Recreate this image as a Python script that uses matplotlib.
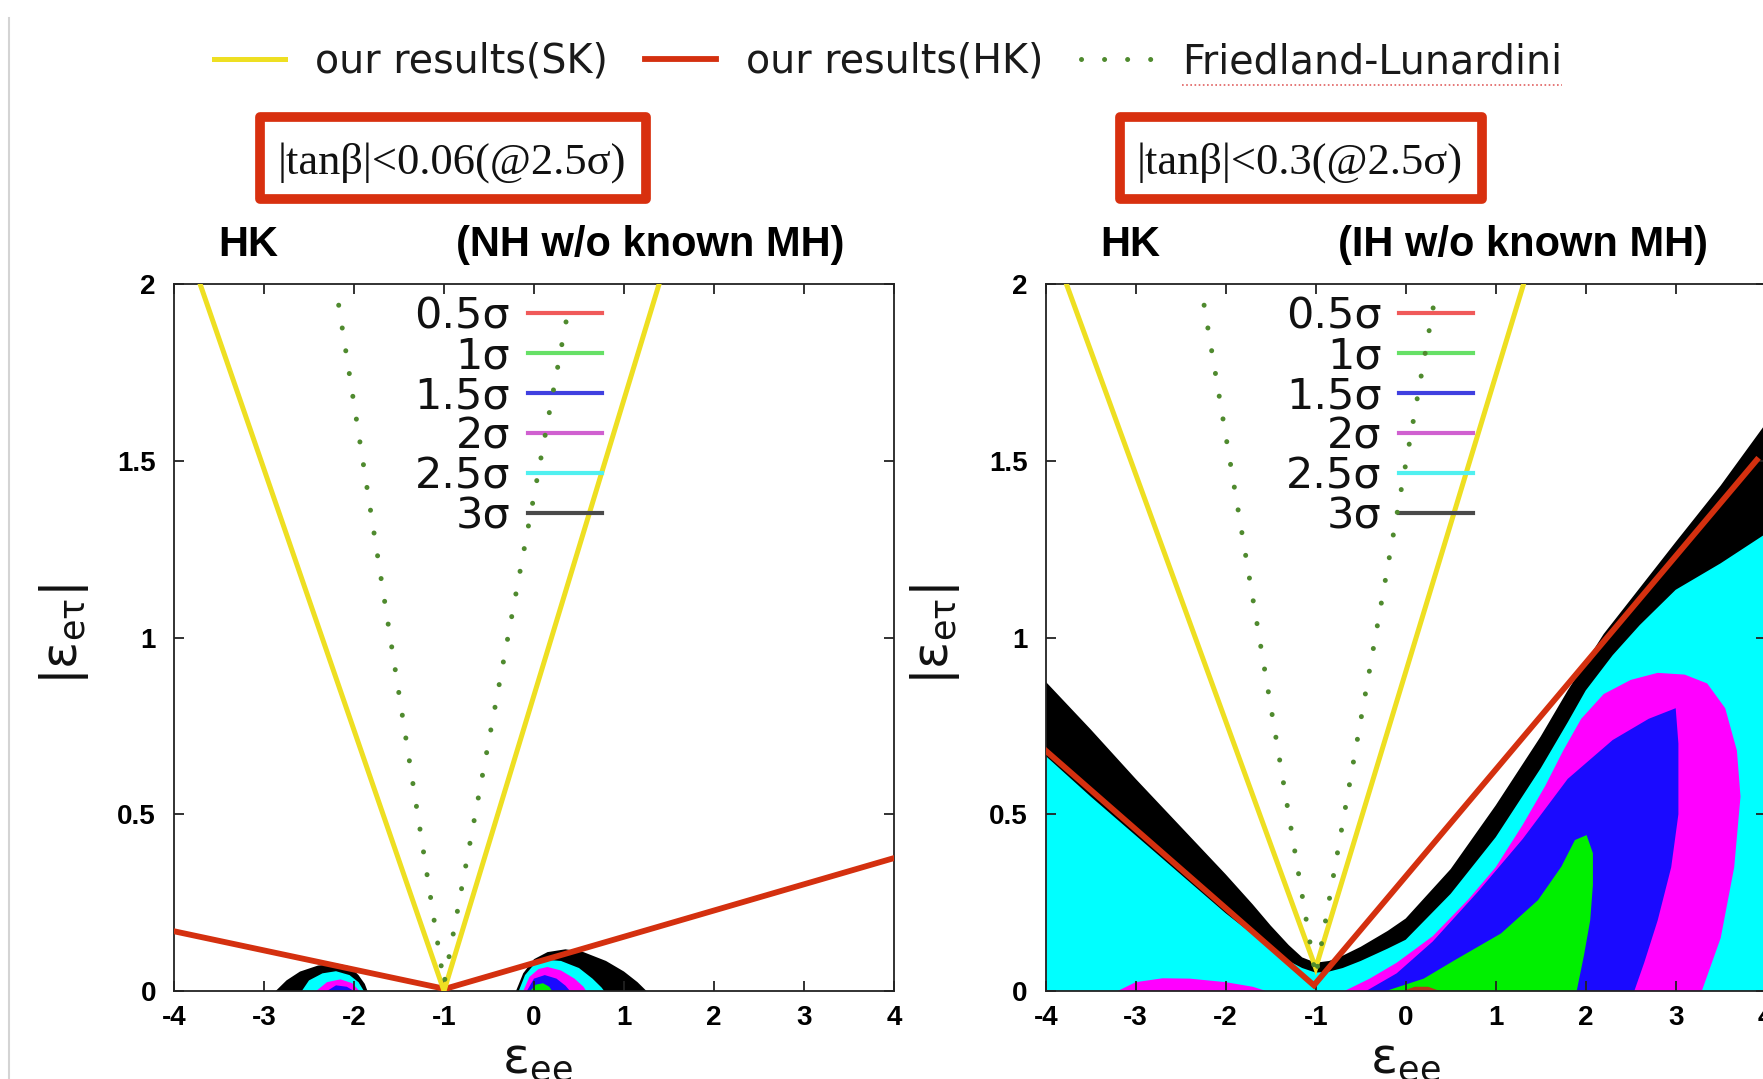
import matplotlib
matplotlib.use("Agg")
import matplotlib.pyplot as plt
from matplotlib.lines import Line2D
from matplotlib.patches import Rectangle

plt.rcParams['mathtext.fontset'] = 'dejavusans'
plt.rcParams['font.family'] = ['DejaVu Sans']

# ------------------------------------------------------------------ data
x_ticks = [-4, -3, -2, -1, 0, 1, 2, 3, 4]
x_tick_labels = ['-4', '-3', '-2', '-1', '0', '1', '2', '3', '4']
y_ticks = [0, 0.5, 1, 1.5, 2]
y_tick_labels = ['0', '0.5', '1', '1.5', '2']

sigma_labels = ['0.5σ', '1σ', '1.5σ', '2σ', '2.5σ', '3σ']
sigma_line_colors = ['#f05a5a', '#66e066', '#4040e0', '#d060d0', '#50f0f0', '#4a4a4a']

top_legend_labels = ['our results(SK)', 'our results(HK)', 'Friedland-Lunardini']
box_texts = ['|tanβ|<0.06(@2.5σ)', '|tanβ|<0.3(@2.5σ)']
panel_tags = ['HK', 'HK']
panel_titles = ['(NH w/o known MH)', '(IH w/o known MH)']
x_label = r'$\mathregular{ε_{ee}}$'
y_label = r'$\mathregular{|ε_{eτ}|}$'

# ---- left panel (NH): bound lines
nh_sk_x = [-3.71, -1.0, 1.39]
nh_sk_y = [2.0, 0.0, 2.0]
nh_hk_x = [-4.0, -0.99, 4.0]
nh_hk_y = [0.169, 0.006, 0.376]
nh_fl_x = [-2.17, -1.0, 0.39]
nh_fl_y = [1.94, 0.02, 1.94]

# ---- left panel (NH): allowed islands (3σ, 2.5σ, 2σ, 1.5σ, 1σ)
nh_a3_x = [-2.87, -2.75, -2.6, -2.4, -2.2, -2.05, -1.95, -1.88, -1.85]
nh_a3_y = [0.0, 0.03, 0.055, 0.072, 0.078, 0.07, 0.045, 0.02, 0.0]
nh_a25_x = [-2.58, -2.5, -2.35, -2.2, -2.05, -1.95, -1.89]
nh_a25_y = [0.0, 0.03, 0.05, 0.056, 0.045, 0.025, 0.0]
nh_a2_x = [-2.42, -2.3, -2.15, -2.02, -1.94]
nh_a2_y = [0.0, 0.025, 0.033, 0.022, 0.0]
nh_a15_x = [-2.3, -2.2, -2.08, -2.0]
nh_a15_y = [0.0, 0.016, 0.012, 0.0]

nh_b3_x = [-0.2, -0.12, 0.0, 0.15, 0.35, 0.55, 0.8, 1.0, 1.15, 1.25]
nh_b3_y = [0.0, 0.05, 0.09, 0.11, 0.118, 0.11, 0.085, 0.055, 0.025, 0.0]
nh_b25_x = [-0.17, -0.1, 0.0, 0.15, 0.3, 0.5, 0.65, 0.75, 0.78]
nh_b25_y = [0.0, 0.045, 0.075, 0.088, 0.085, 0.065, 0.035, 0.01, 0.0]
nh_b2_x = [-0.12, -0.05, 0.05, 0.15, 0.3, 0.45, 0.55, 0.58]
nh_b2_y = [0.0, 0.04, 0.062, 0.068, 0.058, 0.035, 0.012, 0.0]
nh_b15_x = [-0.08, 0.0, 0.12, 0.25, 0.35, 0.4]
nh_b15_y = [0.0, 0.035, 0.045, 0.035, 0.015, 0.0]
nh_b1_x = [-0.04, 0.02, 0.1, 0.17, 0.2]
nh_b1_y = [0.0, 0.018, 0.022, 0.012, 0.0]

# ---- right panel (IH): bound lines
ih_sk_x = [-3.77, -1.0, 1.31]
ih_sk_y = [2.0, 0.065, 2.0]
ih_hk_x = [-4.0, -1.02, 3.9]
ih_hk_y = [0.68, 0.016, 1.502]
ih_fl_x = [-2.24, -1.0, 0.31]
ih_fl_y = [1.94, 0.04, 1.94]

# ---- right panel (IH): allowed regions
ih_3s_x = [-4.0, -3.5, -3.0, -2.5, -2.0, -1.7, -1.5, -1.3, -1.15, -1.0, -0.85, -0.7,
           -0.5, -0.2, 0.0, 0.5, 1.0, 1.5, 1.8, 2.2, 2.6, 3.0, 3.5, 4.1]
ih_3s_y = [0.875, 0.74, 0.60, 0.465, 0.33, 0.245, 0.185, 0.13, 0.095, 0.08, 0.085, 0.1,
           0.125, 0.17, 0.205, 0.345, 0.525, 0.72, 0.85, 1.01, 1.14, 1.27, 1.43, 1.64]
ih_25s_x = [-4.0, -3.5, -3.0, -2.5, -2.0, -1.7, -1.5, -1.3, -1.15, -1.0, -0.85, -0.7,
            -0.5, -0.2, 0.0, 0.5, 1.0, 1.5, 1.8, 2.0, 2.3, 2.6, 3.0, 3.5, 4.1]
ih_25s_y = [0.665, 0.55, 0.44, 0.33, 0.22, 0.16, 0.12, 0.085, 0.065, 0.052, 0.055, 0.065,
            0.085, 0.12, 0.145, 0.275, 0.435, 0.63, 0.76, 0.85, 0.95, 1.035, 1.135, 1.21, 1.31]
ih_2s_a_x = [-3.2, -3.0, -2.7, -2.4, -2.0, -1.7, -1.55]
ih_2s_a_y = [0.0, 0.025, 0.036, 0.035, 0.025, 0.012, 0.0]
ih_2s_b_x = [-0.68, -0.4, -0.1, 0.3, 0.7, 1.0, 1.3, 1.55, 1.75, 1.95, 2.2, 2.5, 2.8, 3.1,
             3.35, 3.55, 3.68, 3.72, 3.65, 3.5, 3.29]
ih_2s_b_y = [0.0, 0.035, 0.08, 0.155, 0.26, 0.35, 0.47, 0.58, 0.68, 0.77, 0.84, 0.88, 0.9,
             0.895, 0.87, 0.8, 0.68, 0.55, 0.35, 0.15, 0.0]
ih_15s_x = [-0.44, -0.1, 0.3, 0.8, 1.3, 1.8, 2.3, 2.7, 3.0, 3.03, 3.03, 2.95, 2.8, 2.65, 2.54]
ih_15s_y = [0.0, 0.05, 0.14, 0.28, 0.43, 0.6, 0.71, 0.77, 0.8, 0.7, 0.5, 0.35, 0.2, 0.08, 0.0]
ih_1s_x = [-0.22, 0.2, 0.55, 1.06, 1.47, 1.73, 1.88, 2.01, 2.08, 2.08, 2.05, 1.98, 1.9]
ih_1s_y = [0.0, 0.035, 0.088, 0.163, 0.257, 0.352, 0.427, 0.441, 0.39, 0.3, 0.2, 0.1, 0.0]
ih_05s_x = [-0.03, 0.1, 0.25, 0.38]
ih_05s_y = [0.0, 0.012, 0.012, 0.0]

# ------------------------------------------------------------------ styles
W, H = 1763, 1079
YELLOW = '#eedf22'
RED = '#d4300f'
DOTGREEN = '#4f8a2e'
BOXRED = '#d8300f'
C_BLACK, C_CYAN, C_MAG, C_BLUE, C_GREEN, C_RED = '#000000', '#00ffff', '#ff00ff', '#1a0aff', '#00f000', '#b8381c'
DOTS = (0, (0.01, 4.6))

fig = plt.figure(figsize=(W / 100, H / 100), dpi=100)
fig.patch.set_facecolor('white')


def fx(px):
    return px / W


def fy(py):
    return 1 - py / H


AX_TOP, AX_BOT, AX_W = 284, 991, 720


def poly(ax, xs, ys, color, z=1):
    ax.fill(xs, ys, color=color, lw=0, zorder=z)


def under(ax, xs, ys, color, z=1):
    ax.fill(list(xs) + [xs[-1], xs[0]], list(ys) + [0, 0], color=color, lw=0, zorder=z)


def setup_panel(left_px):
    ax = fig.add_axes([fx(left_px), fy(AX_BOT), AX_W / W, (AX_BOT - AX_TOP) / H])
    ax.set_xlim(-4, 4)
    ax.set_ylim(0, 2)
    ax.set_xticks(x_ticks)
    ax.set_xticklabels(x_tick_labels, fontsize=20, fontweight='bold', family='Liberation Sans')
    ax.set_yticks(y_ticks)
    ax.set_yticklabels(y_tick_labels, fontsize=20, fontweight='bold', family='Liberation Sans')
    ax.tick_params(direction='in', length=7, width=1.3, top=True, right=True, color='#222222')
    ax.tick_params(axis='x', pad=10)
    ax.tick_params(axis='y', pad=13)
    for s in ax.spines.values():
        s.set_linewidth(1.3)
        s.set_color('#222222')
    return ax


def bounds(ax, sk_x, sk_y, hk_x, hk_y, fl_x, fl_y):
    ax.plot(hk_x, hk_y, color=RED, lw=4.2, zorder=3, solid_joinstyle='miter')
    ax.plot(sk_x, sk_y, color=YELLOW, lw=3.6, zorder=3, solid_joinstyle='miter')
    ax.plot(fl_x, fl_y, color=DOTGREEN, lw=3.6, linestyle=DOTS, dash_capstyle='round', zorder=6)


def sigma_legend(ax):
    for i, (lab, col) in enumerate(zip(sigma_labels, sigma_line_colors)):
        yy = 0.9586 - 0.0566 * i
        ax.add_line(Line2D([0.491, 0.594], [yy, yy], transform=ax.transAxes, color=col, lw=3, zorder=4))
        ax.text(0.4667, yy - 0.005, lab, transform=ax.transAxes, ha='right', va='center',
                fontsize=31, color='#111111', zorder=4)


# ---------------- left panel
axL = setup_panel(174)
for xs, ys, c in [(nh_a3_x, nh_a3_y, C_BLACK), (nh_a25_x, nh_a25_y, C_CYAN), (nh_a2_x, nh_a2_y, C_MAG),
                  (nh_a15_x, nh_a15_y, C_BLUE),
                  (nh_b3_x, nh_b3_y, C_BLACK), (nh_b25_x, nh_b25_y, C_CYAN), (nh_b2_x, nh_b2_y, C_MAG),
                  (nh_b15_x, nh_b15_y, C_BLUE), (nh_b1_x, nh_b1_y, C_GREEN)]:
    poly(axL, xs, ys, c)
bounds(axL, nh_sk_x, nh_sk_y, nh_hk_x, nh_hk_y, nh_fl_x, nh_fl_y)
sigma_legend(axL)

# ---------------- right panel
axR = setup_panel(1045.7)
under(axR, ih_3s_x, ih_3s_y, C_BLACK)
under(axR, ih_25s_x, ih_25s_y, C_CYAN)
for xs, ys, c in [(ih_2s_a_x, ih_2s_a_y, C_MAG), (ih_2s_b_x, ih_2s_b_y, C_MAG), (ih_15s_x, ih_15s_y, C_BLUE),
                  (ih_1s_x, ih_1s_y, C_GREEN), (ih_05s_x, ih_05s_y, C_RED)]:
    poly(axR, xs, ys, c)
bounds(axR, ih_sk_x, ih_sk_y, ih_hk_x, ih_hk_y, ih_fl_x, ih_fl_y)
sigma_legend(axR)

# ---------------- titles, boxes, labels
for tag, title, tx, ttx in zip(panel_tags, panel_titles, [248, 1130], [650, 1523]):
    fig.text(fx(tx), fy(245), tag, ha='center', va='center', fontsize=30, fontweight='bold',
             family='Liberation Sans')
    fig.text(fx(ttx), fy(245), title, ha='center', va='center', fontsize=30, fontweight='bold',
             family='Liberation Sans')

for txt, (x0, x1), tcx in zip(box_texts, [(260, 646), (1120, 1482)], [452, 1300]):
    fig.add_artist(Rectangle((fx(x0), fy(199)), (x1 - x0) / W, (199 - 117) / H, transform=fig.transFigure,
                             fill=False, ec=BOXRED, lw=7, joinstyle='round'))
    fig.text(fx(tcx), fy(163), txt, ha='center', va='center', fontsize=32, family='Liberation Serif',
             color='#111111')

for yx, xx in [(64, 537), (935.5, 1405.5)]:
    fig.text(fx(yx), fy(635), y_label, rotation=90, ha='center', va='center', fontsize=36, color='#111111')
    fig.text(fx(xx), fy(1036), x_label, ha='center', va='top', fontsize=36, color='#111111')

# left margin rule
fig.add_artist(Line2D([fx(9), fx(9)], [0, fy(18)], transform=fig.transFigure, color='#d4d4d4', lw=1.5))

# ---------------- top legend
handles = [Line2D([], [], color=YELLOW, lw=3.6),
           Line2D([], [], color=RED, lw=4.2),
           Line2D([], [], color=DOTGREEN, lw=3.6, linestyle=DOTS, dash_capstyle='round')]
leg = fig.legend(handles, top_legend_labels, loc='center', bbox_to_anchor=(fx(888), fy(62)), ncol=3,
                 frameon=False, fontsize=28.5, handlelength=1.8, handletextpad=0.75, columnspacing=0.95,
                 borderpad=0, borderaxespad=0)
for t in leg.get_texts():
    t.set_color('#1a1a1a')

fig.canvas.draw()
bb = leg.get_texts()[2].get_window_extent()
fig.add_artist(Line2D([bb.x0 / W, bb.x1 / W], [bb.y0 / H - 0.003, bb.y0 / H - 0.003], transform=fig.transFigure,
                      color='#e06060', lw=1.2, linestyle=(0, (1, 1.5))))

fig.savefig('out.png', dpi=100, facecolor='white')
